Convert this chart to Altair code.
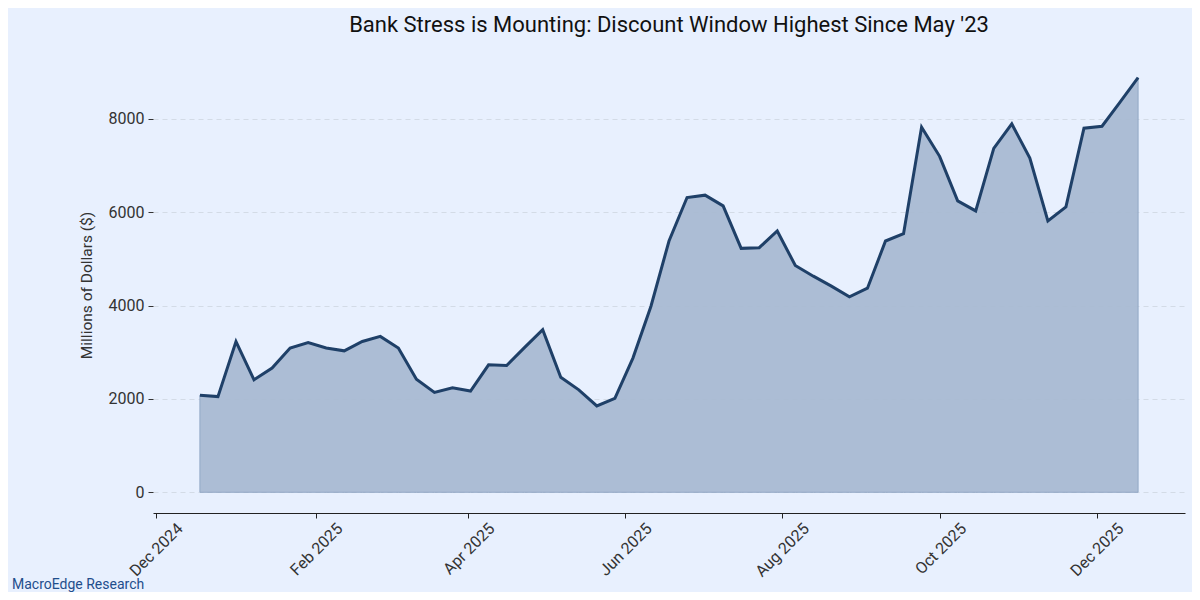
import altair as alt
import pandas as pd

start_date = "2024-12-18"
n_weeks = 53
values = [
    2080, 2050, 3230, 2410, 2660, 3090, 3210, 3090, 3030, 3230,
    3340, 3090, 2420, 2140, 2240, 2170, 2730, 2717, 3104, 3484,
    2466, 2194, 1849, 2014, 2875, 3986, 5384, 6315, 6366, 6136,
    5226, 5240, 5598, 4860, 4630, 4416, 4186, 4372, 5384, 5541,
    7821, 7198, 6244, 6028, 7369, 7892, 7161, 5813, 6114, 7800,
    7843, 8359, 8882,
]
dates = pd.date_range(start_date, periods=n_weeks, freq="7D")
df = pd.DataFrame({"date": dates, "value": values})

span = dates[-1] - dates[0]
x_min = dates[0] - span * 0.05
x_max = dates[-1] + span * 0.05
y_min = -0.05 * max(values)
y_max = max(values) * 1.05

tick_dates = ["2024-12-01", "2025-02-01", "2025-04-01", "2025-06-01",
              "2025-08-01", "2025-10-01", "2025-12-01"]

BG = "#e8f0fe"
LINE = "#1f4068"
FILL = "#a9bbd3"
FONT = "Roboto"

x_enc = alt.X(
    "date:T",
    scale=alt.Scale(domain=[x_min.isoformat(), x_max.isoformat()]),
    axis=alt.Axis(
        title=None, format="%b %Y", values=tick_dates, labelAngle=-45,
        labelAlign="right", labelBaseline="top", grid=False,
        domainColor="#222", domainWidth=1.2, tickColor="#222", tickSize=5,
        labelFontSize=16, labelColor="#333", labelFont=FONT, labelPadding=2,
        labelOffset=18,
    ),
)
y_enc = alt.Y(
    "value:Q",
    scale=alt.Scale(domain=[y_min, y_max], nice=False, zero=False),
    axis=alt.Axis(
        title="Millions of Dollars ($)", values=[0, 2000, 4000, 6000, 8000],
        format="d",
        domain=False, grid=True, gridDash=[5, 4], gridColor="#d3dbe6",
        gridWidth=1, tickColor="#333", tickSize=5, labelFontSize=16,
        labelColor="#333", labelFont=FONT, titleFont=FONT, titleFontSize=15.5,
        titleFontWeight="normal", titleColor="#333", labelPadding=4,
        titlePadding=14,
    ),
)

area = alt.Chart(df).mark_area(
    color=FILL, opacity=0.95, stroke="#8fa5c4", strokeWidth=1
).encode(x=x_enc, y=y_enc, y2=alt.datum(0))

line = alt.Chart(df).mark_line(color=LINE, strokeWidth=3).encode(
    x="date:T", y="value:Q"
)

src = alt.Chart(pd.DataFrame({"t": ["MacroEdge Research"]})).mark_text(
    align="left", baseline="alphabetic", fontSize=14, font=FONT, color="#1f4e8c"
).encode(x=alt.value(-141), y=alt.value(532), text="t:N")

chart = alt.layer(area, line, src).properties(
    width=1032, height=456,
    title=alt.TitleParams(
        "Bank Stress is Mounting: Discount Window Highest Since May '23",
        fontSize=22, font=FONT, fontWeight="normal", color="#111",
        anchor="middle", offset=20,
    ),
    background=BG,
    autosize=alt.AutoSizeParams(type="none"),
    padding={"left": 145, "top": 49, "right": 7, "bottom": 79},
).configure_view(stroke=None)

chart.save("out.html", embed_options={"renderer": "svg", "actions": False})
